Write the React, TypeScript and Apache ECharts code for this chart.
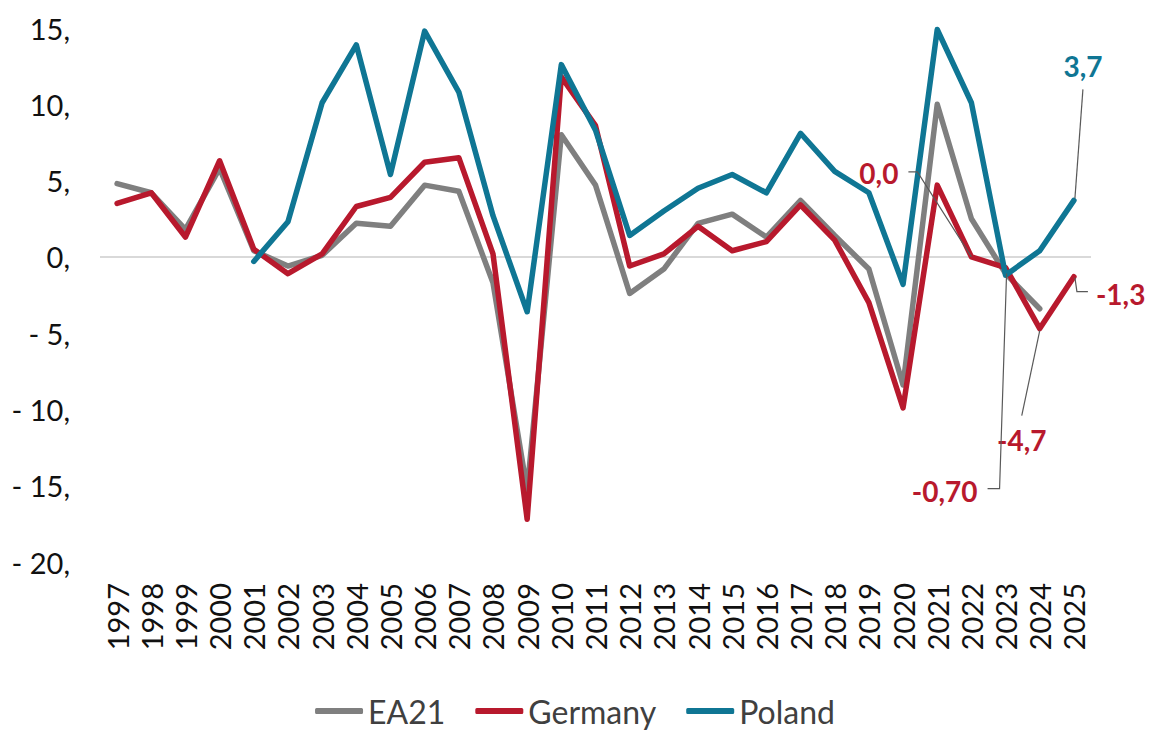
import React, { useEffect, useRef } from "react";
import * as echarts from "echarts";

const years = [
  "1997", "1998", "1999", "2000", "2001", "2002", "2003", "2004", "2005", "2006",
  "2007", "2008", "2009", "2010", "2011", "2012", "2013", "2014", "2015", "2016",
  "2017", "2018", "2019", "2020", "2021", "2022", "2023", "2024", "2025",
];

const ea21 = [
  4.8, 4.2, 1.8, 5.8, 0.4, -0.6, 0.1, 2.2, 2.0, 4.7,
  4.3, -1.7, -15.3, 8.0, 4.7, -2.4, -0.8, 2.2, 2.8, 1.3,
  3.7, 1.4, -0.8, -8.4, 10.0, 2.5, -1.1, -3.4, null,
];

const germany = [
  3.5, 4.2, 1.3, 6.3, 0.5, -1.1, 0.2, 3.3, 3.9, 6.2,
  6.5, 0.2, -17.2, 11.8, 8.6, -0.6, 0.2, 2.0, 0.4, 1.0,
  3.4, 1.1, -3.0, -9.9, 4.7, 0.0, -0.7, -4.7, -1.3,
];

const poland = [
  null, null, null, null, -0.3, 2.3, 10.1, 13.9, 5.4, 14.8,
  10.8, 2.7, -3.6, 12.6, 8.3, 1.4, 3.0, 4.5, 5.4, 4.2,
  8.1, 5.6, 4.2, -1.8, 14.9, 10.1, -1.2, 0.4, 3.7,
];

const seriesNames = ["EA21", "Germany", "Poland"];
const colors = ["#7f7f7f", "#b8192d", "#0f7694"];

const yMin = -20;
const yMax = 15;
const yStep = 5;

// annotation labels: year, text, series data
const annoYears = ["2022", "2025", "2025", "2024", "2023"];
const annoTexts = ["0,0", "3,7", "-1,3", "-4,7", "-0,70"];
const annoSeriesData = [germany, poland, germany, germany, germany];
const annoColors = [colors[1], colors[2], colors[1], colors[1], colors[1]];

const FONT = "Lato, 'Open Sans', sans-serif";

export default function App() {
  const ref = useRef<HTMLDivElement>(null);

  useEffect(() => {
    if (!ref.current) return;
    const chart = echarts.init(ref.current, undefined, { renderer: "svg" });
    const allData = [ea21, germany, poland];

    chart.setOption({
      animation: false,
      backgroundColor: "#ffffff",
      textStyle: { fontFamily: FONT },
      grid: { left: 100, right: 59, top: 28, bottom: 168, containLabel: false },
      legend: {
        data: seriesNames,
        top: 688,
        left: "center",
        icon: "roundRect",
        itemWidth: 48,
        itemHeight: 6,
        itemGap: 30,
        padding: [5, 5, 5, 5],
        textStyle: { fontFamily: FONT, fontSize: 32, color: "#404040", lineHeight: 36 },
      },
      xAxis: {
        type: "category",
        data: years,
        boundaryGap: true,
        axisLine: { show: false },
        axisTick: { show: false },
        axisLabel: {
          interval: 0,
          rotate: 90,
          margin: 21,
          fontFamily: FONT,
          fontSize: 29,
          color: "#111111",
        },
        splitLine: { show: false },
      },
      yAxis: {
        type: "value",
        min: yMin,
        max: yMax,
        interval: yStep,
        axisLine: { show: false },
        axisTick: { show: false },
        splitLine: { show: false },
        axisLabel: {
          margin: 30,
          fontFamily: FONT,
          fontSize: 29,
          color: "#111111",
          formatter: (v: number) => (v < 0 ? "- " + Math.abs(v) + "," : v + ","),
        },
      },
      series: allData.map((d, i) => ({
        name: seriesNames[i],
        type: "line",
        data: d,
        showSymbol: false,
        symbol: "none",
        connectNulls: false,
        lineStyle: { color: colors[i], width: 5.5, cap: "round", join: "round" },
        itemStyle: { color: colors[i] },
        z: 2 + i,
        markLine:
          i === 0
            ? {
                silent: true,
                symbol: "none",
                label: { show: false },
                lineStyle: { color: "#d9d9d9", type: "solid", width: 2 },
                data: [{ yAxis: 0 }],
                z: 1,
              }
            : undefined,
      })),
    });

    const pts = annoYears.map((y, k) => {
      const idx = years.indexOf(y);
      const val = annoSeriesData[k][idx] as number;
      return chart.convertToPixel({ gridIndex: 0 }, [idx, val]) as number[];
    });

    const lineStyle = { stroke: "#595959", lineWidth: 1.2, fill: null };
    const textStyle = (k: number) => ({
      text: annoTexts[k],
      fontFamily: FONT,
      fontSize: 28,
      fontWeight: "bold",
      fill: annoColors[k],
    });

    const g: any[] = [];
    {
      const [x, y] = pts[0];
      g.push({ type: "polyline", shape: { points: [[x - 63, y - 85], [x - 54, y - 85], [x, y]] }, style: lineStyle, z: 10 });
      g.push({ type: "text", x: x - 73, y: y - 84, style: { ...textStyle(0), align: "right", verticalAlign: "middle" }, z: 10 });
    }
    {
      const [x, y] = pts[1];
      g.push({ type: "polyline", shape: { points: [[x + 9, y - 111], [x + 1, y - 2]] }, style: lineStyle, z: 10 });
      g.push({ type: "text", x: x + 9, y: y - 134, style: { ...textStyle(1), align: "center", verticalAlign: "middle" }, z: 10 });
    }
    {
      const [x, y] = pts[2];
      g.push({ type: "polyline", shape: { points: [[x + 1, y + 1], [x + 3, y + 15], [x + 14, y + 15]] }, style: lineStyle, z: 10 });
      g.push({ type: "text", x: x + 22, y: y + 17, style: { ...textStyle(2), align: "left", verticalAlign: "middle" }, z: 10 });
    }
    {
      const [x, y] = pts[3];
      g.push({ type: "polyline", shape: { points: [[x, y + 2], [x - 18, y + 87]] }, style: lineStyle, z: 10 });
      g.push({ type: "text", x: x - 18, y: y + 111, style: { ...textStyle(3), align: "center", verticalAlign: "middle" }, z: 10 });
    }
    {
      const [x, y] = pts[4];
      g.push({ type: "polyline", shape: { points: [[x + 1, y + 6], [x - 6, y + 221], [x - 18, y + 221]] }, style: lineStyle, z: 10 });
      g.push({ type: "text", x: x - 28, y: y + 223, style: { ...textStyle(4), align: "right", verticalAlign: "middle" }, z: 10 });
    }

    chart.setOption({ graphic: g });

    return () => chart.dispose();
  }, []);

  return (
    <div
      ref={ref}
      style={{ position: "absolute", left: 0, top: 0, width: 1150, height: 730 }}
    />
  );
}
